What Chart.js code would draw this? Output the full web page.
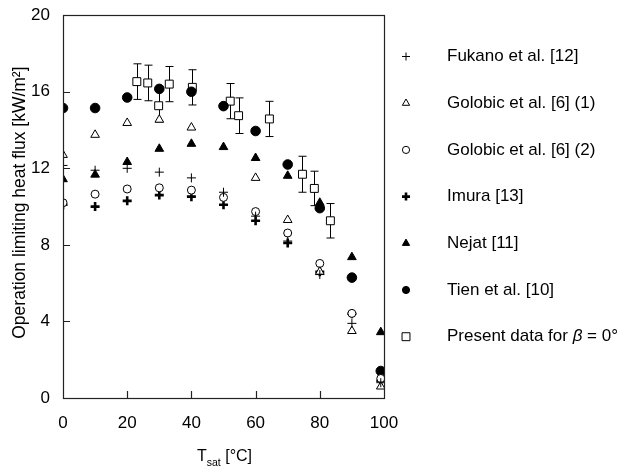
<!DOCTYPE html>
<html><head><meta charset="utf-8">
<script src="https://cdn.jsdelivr.net/npm/chart.js"></script>
<style>html,body{margin:0;padding:0;background:#fff}#wrap{width:623px;height:470px;position:relative}</style>
</head><body><div id="wrap"><canvas id="c" width="623" height="470"></canvas></div>
<script>
const temps = [0,10,20,30,40,50,60,70,80,90,99];
const fukano = [12.15,11.9,12.0,11.8,11.5,10.75,9.5,8.2,6.45,3.9,0.8];
const golobic1 = [12.7,13.75,14.37,14.54,14.13,null,11.5,9.3,6.6,3.5,0.6];
const golobic2 = [10.2,10.65,10.92,10.98,10.86,10.48,9.74,8.62,7.03,4.42,1.02];
const imura = [10.1,10.0,10.3,10.6,10.52,10.1,9.26,8.1,6.6,4.4,0.9];
const nejat = [11.43,11.67,12.33,13.02,13.28,13.11,12.54,11.61,10.2,7.36,3.44];
const tien = [15.15,15.15,15.7,16.15,16.0,15.25,13.95,12.2,9.92,6.29,1.41];
const presentT = [23,26.4,29.8,33.1,40.3,52.1,54.7,64.3,74.6,78.3,83.3];
const presentQ = [16.53,16.46,15.27,16.4,16.23,15.51,14.75,14.58,11.69,10.95,9.26];
const presentErr = [0.93,0.93,0.85,0.92,0.92,0.92,0.93,0.92,0.94,0.9,0.9];
const xTicks = [0,20,40,60,80,100];
const yTicks = [0,4,8,12,16,20];
const seriesNames = ['Fukano et al. [12]','Golobic et al. [6] (1)','Golobic et al. [6] (2)','Imura [13]','Nejat [11]','Tien et al. [10]','Present data for '];

const FONT = "'Liberation Sans', Arial, sans-serif";
const pts = (xs, ys) => xs.map((x,i)=>({x:x, y:ys[i]})).filter(p=>p.y!==null);

const markerStyles = [
  {pointStyle:'cross', radius:4.5, borderWidth:1, bg:'#000'},
  {pointStyle:'triangle', radius:5, borderWidth:1, bg:'#fff'},
  {pointStyle:'circle', radius:4, borderWidth:1, bg:'#fff'},
  {pointStyle:'cross', radius:4.5, borderWidth:2.6, bg:'#000'},
  {pointStyle:'triangle', radius:5, borderWidth:1, bg:'#000'},
  {pointStyle:'circle', radius:4.8, borderWidth:1, bg:'#000'},
  {pointStyle:'rect', radius:5.6, borderWidth:1, bg:'#fff'}
];
const seriesData = [pts(temps,fukano),pts(temps,golobic1),pts(temps,golobic2),pts(temps,imura),pts(temps,nejat),pts(temps,tien),pts(presentT,presentQ)];

const datasets = seriesData.map((d,i)=>({
  label: seriesNames[i], data: d, showLine:false,
  pointStyle: markerStyles[i].pointStyle, pointRadius: markerStyles[i].radius,
  pointBorderWidth: markerStyles[i].borderWidth, pointBackgroundColor: markerStyles[i].bg,
  pointBorderColor:'#000', pointHoverRadius: markerStyles[i].radius
}));

function drawMarker(ctx, style, x, y, r, bw, bg){
  ctx.save();
  ctx.lineWidth = bw; ctx.strokeStyle = '#000'; ctx.fillStyle = bg;
  ctx.beginPath();
  if (style==='cross'){
    ctx.moveTo(x-r,y); ctx.lineTo(x+r,y); ctx.moveTo(x,y-r); ctx.lineTo(x,y+r); ctx.stroke();
  } else if (style==='triangle'){
    const w = r*Math.sqrt(3)/2;
    ctx.moveTo(x, y-r); ctx.lineTo(x+w, y+r/2); ctx.lineTo(x-w, y+r/2); ctx.closePath(); ctx.fill(); ctx.stroke();
  } else if (style==='circle'){
    ctx.arc(x,y,r,0,Math.PI*2); ctx.fill(); ctx.stroke();
  } else if (style==='rect'){
    const s = r/Math.SQRT2; ctx.rect(x-s,y-s,2*s,2*s); ctx.fill(); ctx.stroke();
  }
  ctx.restore();
}

const framePlugin = {
  id:'frame',
  beforeDatasetsDraw(chart){
    const {ctx, scales:{x,y}} = chart;
    ctx.save();
    ctx.strokeStyle='#000'; ctx.lineWidth=1;
    presentT.forEach((t,i)=>{
      const px = Math.round(x.getPixelForValue(t))+0.5;
      const top = y.getPixelForValue(presentQ[i]+presentErr[i]);
      const bot = y.getPixelForValue(presentQ[i]-presentErr[i]);
      ctx.beginPath();
      ctx.moveTo(px, top); ctx.lineTo(px, bot);
      ctx.moveTo(px-4, top); ctx.lineTo(px+4, top);
      ctx.moveTo(px-4, bot); ctx.lineTo(px+4, bot);
      ctx.stroke();
    });
    ctx.restore();
  },
  afterDraw(chart){
    const {ctx, chartArea:a, scales:{x,y}} = chart;
    ctx.save();
    ctx.strokeStyle='#222'; ctx.lineWidth=1.2;
    ctx.strokeRect(Math.round(a.left)+0.5, Math.round(a.top)+0.5, Math.round(a.right-a.left), Math.round(a.bottom-a.top));
    ctx.beginPath();
    xTicks.slice(1,-1).forEach(v=>{const px=Math.round(x.getPixelForValue(v))+0.5; ctx.moveTo(px,a.bottom); ctx.lineTo(px,a.bottom-7);});
    yTicks.slice(1,-1).forEach(v=>{const py=Math.round(y.getPixelForValue(v))+0.5; ctx.moveTo(a.left,py); ctx.lineTo(a.left+7,py);});
    ctx.stroke();
    // axis titles
    ctx.fillStyle='#000';
    ctx.textBaseline='alphabetic'; ctx.textAlign='left';
    const cx = (a.left+a.right)/2;
    ctx.font = '16px '+FONT; const wT = ctx.measureText('T').width;
    ctx.font = '10.5px '+FONT; const wS = ctx.measureText('sat').width;
    ctx.font = '16px '+FONT; const wR = ctx.measureText(' [°C]').width;
    let sx = cx - (wT+wS+wR)/2 + 1;
    ctx.fillText('T', sx, 461);
    ctx.font = '10.5px '+FONT; ctx.fillText('sat', sx+wT, 466);
    ctx.font = '16px '+FONT; ctx.fillText(' [°C]', sx+wT+wS, 461);
    ctx.save();
    ctx.translate(25, (a.top+a.bottom)/2 - 4);
    ctx.rotate(-Math.PI/2);
    ctx.textAlign='center';
    ctx.font = '17.5px '+FONT;
    ctx.fillText('Operation limiting heat flux [kW/m²]', 0, 0);
    ctx.restore();
    // legend
    const rowY = 56.5, gap = 46.7, mx = 406, tx = 447;
    seriesNames.forEach((name,i)=>{
      const yy = rowY + gap*i;
      const st = markerStyles[i];
      const r = st.pointStyle==='rect' ? 5.6 : (st.pointStyle==='cross' ? 4 : (st.pointStyle==='triangle'?4.2:3.6));
      drawMarker(ctx, st.pointStyle, mx, yy, r, st.pointStyle==='cross' && st.borderWidth>2 ? 2.6 : 1, st.bg);
      ctx.fillStyle='#000'; ctx.font='17px '+FONT; ctx.textBaseline='middle'; ctx.textAlign='left';
      ctx.fillText(name, tx, yy);
      if (i===6){
        let w = ctx.measureText(name).width;
        ctx.font='italic 17px '+FONT; ctx.fillText('β', tx+w, yy);
        w += ctx.measureText('β').width;
        ctx.font='17px '+FONT; ctx.fillText(' = 0°', tx+w, yy);
      }
    });
    ctx.restore();
  }
};

new Chart(document.getElementById('c'), {
  type:'scatter',
  data:{datasets},
  options:{
    responsive:false, animation:false, events:[],
    layout:{padding:{left:0,right:239,top:12,bottom:0}},
    plugins:{legend:{display:false}, tooltip:{enabled:false}},
    scales:{
      x:{type:'linear', min:0, max:100,
        afterBuildTicks:s=>{s.ticks = xTicks.map(v=>({value:v}));},
        afterFit:s=>{s.height=72;},
        grid:{display:false}, border:{display:false},
        ticks:{color:'#000', font:{family:FONT,size:17}, padding:7}},
      y:{type:'linear', min:0, max:20,
        afterBuildTicks:s=>{s.ticks = yTicks.map(v=>({value:v}));},
        afterFit:s=>{s.width=63;},
        grid:{display:false}, border:{display:false},
        ticks:{color:'#000', font:{family:FONT,size:17}, padding:5}}
    }
  },
  plugins:[framePlugin]
});
</script>
</body></html>
